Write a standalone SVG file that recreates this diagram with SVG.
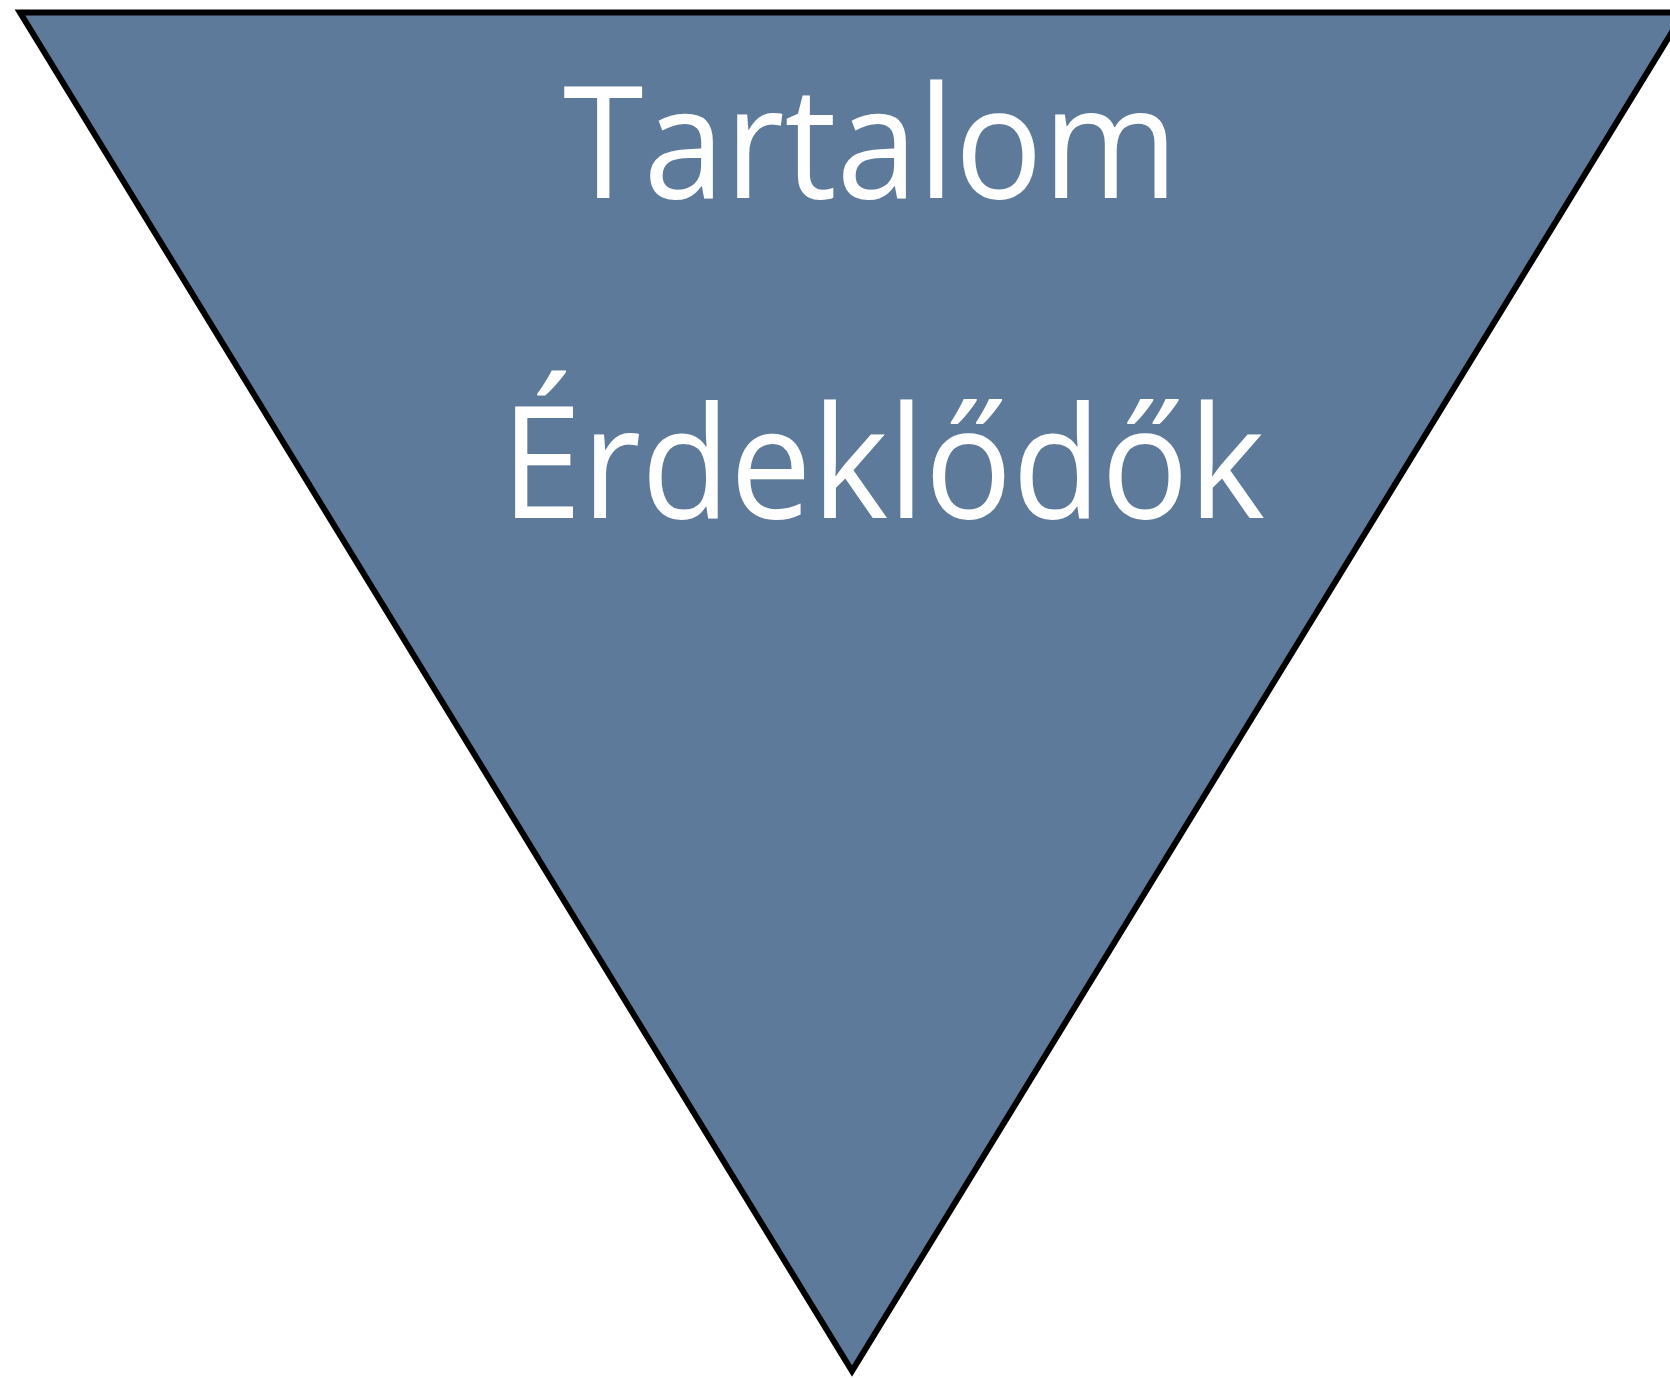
<svg xmlns="http://www.w3.org/2000/svg" width="1670" height="1378" viewBox="0 0 1670 1378">
  <style>
    .shape { fill: #5e7a9a; stroke: #000000; stroke-width: 6; stroke-linejoin: miter; }
    .label { font-family: "Open Sans", "Noto Sans", "Liberation Sans", sans-serif; font-size: 156px; fill: #ffffff; }
  </style>
  <rect width="1670" height="1378" fill="#ffffff"/>
  <g id="funnel">
    <polygon class="shape" points="20,12.5 1684,12.5 852,1371"/>
  </g>
  <g id="label-tartalom">
    <text class="label" x="563" y="198" textLength="615" lengthAdjust="spacingAndGlyphs">Tartalom</text>
  </g>
  <g id="label-erdeklodok">
    <text class="label" x="501" y="518" textLength="764" lengthAdjust="spacingAndGlyphs">Érdeklődők</text>
  </g>
  <g id="connectors"></g>
</svg>
